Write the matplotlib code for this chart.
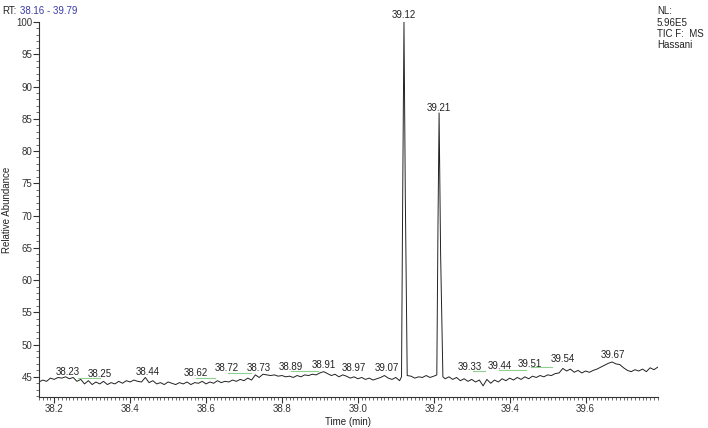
import numpy as np
import matplotlib
matplotlib.use("Agg")
import matplotlib.pyplot as plt
from matplotlib.ticker import MultipleLocator, FormatStrFormatter

# 色谱图数据 (保留时间 min, 相对丰度 %)
rt_min = [
    38.16, 38.17, 38.18, 38.19, 38.20, 38.21, 38.22, 38.23, 38.24, 38.25,
    38.26, 38.27, 38.28, 38.29, 38.30, 38.31, 38.32, 38.33, 38.34, 38.35,
    38.36, 38.37, 38.38, 38.39, 38.40, 38.41, 38.42, 38.43, 38.44, 38.45,
    38.46, 38.47, 38.48, 38.49, 38.50, 38.51, 38.52, 38.53, 38.54, 38.55,
    38.56, 38.57, 38.58, 38.59, 38.60, 38.61, 38.62, 38.63, 38.64, 38.65,
    38.66, 38.67, 38.68, 38.69, 38.70, 38.71, 38.72, 38.73, 38.74, 38.75,
    38.76, 38.77, 38.78, 38.79, 38.80, 38.81, 38.82, 38.83, 38.84, 38.85,
    38.86, 38.87, 38.88, 38.89, 38.90, 38.91, 38.92, 38.93, 38.94, 38.95,
    38.96, 38.97, 38.98, 38.99, 39.00, 39.01, 39.02, 39.03, 39.04, 39.05,
    39.06, 39.07, 39.08, 39.09, 39.10, 39.11,
    39.115, 39.118, 39.1215, 39.125, 39.130,
    39.14, 39.15, 39.16, 39.17, 39.18, 39.19, 39.20,
    39.208, 39.211, 39.214, 39.218, 39.224,
    39.23, 39.24, 39.25, 39.26, 39.27, 39.28, 39.29, 39.30,
    39.31, 39.32, 39.33, 39.34, 39.35, 39.36, 39.37, 39.38, 39.39, 39.40,
    39.41, 39.42, 39.43, 39.44, 39.45, 39.46, 39.47, 39.48, 39.49, 39.50,
    39.51, 39.52, 39.53, 39.54, 39.55, 39.56, 39.57, 39.58, 39.59, 39.60,
    39.61, 39.62, 39.63, 39.64, 39.65, 39.66, 39.67, 39.68, 39.69, 39.70,
    39.71, 39.72, 39.73, 39.74, 39.75, 39.76, 39.77, 39.78, 39.79,
]
abundance = [
    44.2, 44.5, 44.3, 44.8, 44.6, 44.9, 44.8, 45.0, 44.7, 44.9,
    44.3, 44.6, 43.9, 44.4, 43.8, 44.2, 43.9, 44.3, 43.8, 44.1,
    43.9, 44.3, 44.0, 44.4, 44.2, 44.5, 44.3, 44.2, 44.9, 44.1,
    44.4, 43.9, 44.1, 43.8, 44.2, 44.0, 43.8, 44.1, 43.9, 44.2,
    43.8, 44.1, 44.0, 44.3, 43.9, 44.2, 44.0, 44.4, 44.1, 44.3,
    44.2, 44.5, 44.3, 44.6, 44.4, 44.8, 44.5, 45.3, 44.9, 45.4,
    45.3, 45.2, 45.3, 45.1, 45.2, 45.0, 45.1, 44.9, 45.2, 45.0,
    45.3, 45.2, 45.4, 45.3, 45.6, 45.8, 45.5, 45.2, 45.4, 45.0,
    45.3, 45.1, 44.8, 45.0, 44.7, 44.9, 44.6, 44.8, 44.5, 44.7,
    44.9, 45.2, 44.8, 44.6, 44.9, 44.4,
    45.0, 72.0, 100.0, 73.0, 45.2,
    45.1, 44.8, 45.0, 44.9, 45.2, 44.9, 45.1,
    45.3, 68.0, 85.9, 64.0, 45.0,
    44.7, 45.0, 44.6, 44.9, 44.4, 44.7, 44.3, 44.6,
    44.2, 44.5, 43.6, 44.6, 44.0, 44.5, 44.2, 44.7, 44.4, 44.8,
    44.5, 44.9, 44.6, 45.0, 44.7, 45.1, 44.9, 45.2, 45.0, 45.3,
    45.2, 45.5, 45.6, 46.3, 45.9, 46.2, 45.7, 46.0, 45.6, 45.9,
    45.7, 46.0, 46.2, 46.5, 46.8, 47.1, 47.3, 47.0, 46.9, 46.4,
    46.0, 45.8, 46.1, 45.9, 46.2, 45.8, 46.4, 46.1, 46.5,
]

# 峰标注: 文本, 标注位置
peak_labels = ["38.23", "38.25", "38.44", "38.62", "38.72", "38.73", "38.89",
               "38.91", "38.97", "39.07", "39.12", "39.21", "39.33", "39.44",
               "39.51", "39.54", "39.67"]
label_rt = [38.235, 38.320, 38.446, 38.573, 38.654, 38.738, 38.824,
            38.911, 38.989, 39.077, 39.122, 39.214, 39.295, 39.375,
            39.454, 39.539, 39.671]
label_y = [45.8, 45.5, 45.7, 45.6, 46.3, 46.3, 46.5,
           46.8, 46.4, 46.3, 101.1, 86.7, 46.5, 46.7,
           47.05, 47.7, 48.35]

# 积分基线 (绿色短线)
base_start = [38.262, 38.573, 38.659, 38.824, 39.303, 39.373, 39.457]
base_end = [38.320, 38.623, 38.719, 38.894, 39.334, 39.444, 39.512]
base_level = [44.85, 44.75, 45.6, 45.9, 45.88, 46.0, 46.5]

plt.rcParams["font.family"] = ["Liberation Sans", "DejaVu Sans"]
fig = plt.figure(figsize=(7.08, 4.28), dpi=100)
ax = fig.add_axes([0.0551, 0.0724, 0.8739, 0.8762])

ax.plot(rt_min, abundance, color="#222222", linewidth=0.7)
for s, e, lv in zip(base_start, base_end, base_level):
    ax.plot([s, e], [lv, lv], color="#8fd08f", linewidth=0.8)
for txt, x, y in zip(peak_labels, label_rt, label_y):
    ax.text(x, y, txt, fontsize=7, ha="center", va="center",
            color="#222222", clip_on=False)

ax.set_xlim(38.16, 39.79)
ax.set_ylim(41.87, 100)
ax.xaxis.set_major_locator(MultipleLocator(0.2))
ax.xaxis.set_minor_locator(MultipleLocator(0.01))
ax.xaxis.set_major_formatter(FormatStrFormatter("%.1f"))
ax.yaxis.set_major_locator(MultipleLocator(5))
ax.yaxis.set_minor_locator(MultipleLocator(1))
ax.set_yticks(np.arange(45, 101, 5))

ax.tick_params(axis="both", which="major", length=4, width=0.8,
               labelsize=7, colors="#333333", pad=1)
ax.tick_params(axis="both", which="minor", length=2, width=0.6, colors="#555555")
for side in ["top", "right"]:
    ax.spines[side].set_visible(False)
for side in ["left", "bottom"]:
    ax.spines[side].set_color("#333333")
    ax.spines[side].set_linewidth(0.8)

ax.set_xlabel("Time (min)", fontsize=7, color="#222222", labelpad=2)
ax.set_ylabel("Relative Abundance", fontsize=7, color="#222222", labelpad=3)

fig.text(0.003, 0.985, "RT:", fontsize=7, color="#222222", va="top")
fig.text(0.028, 0.985, "38.16 - 39.79", fontsize=7, color="#3a3aa8", va="top")
fig.text(0.928, 0.985, "NL:\n5.96E5\nTIC F:  MS\nHassani", fontsize=7,
         color="#222222", va="top", linespacing=1.15)

fig.savefig("out.png", dpi=100)
